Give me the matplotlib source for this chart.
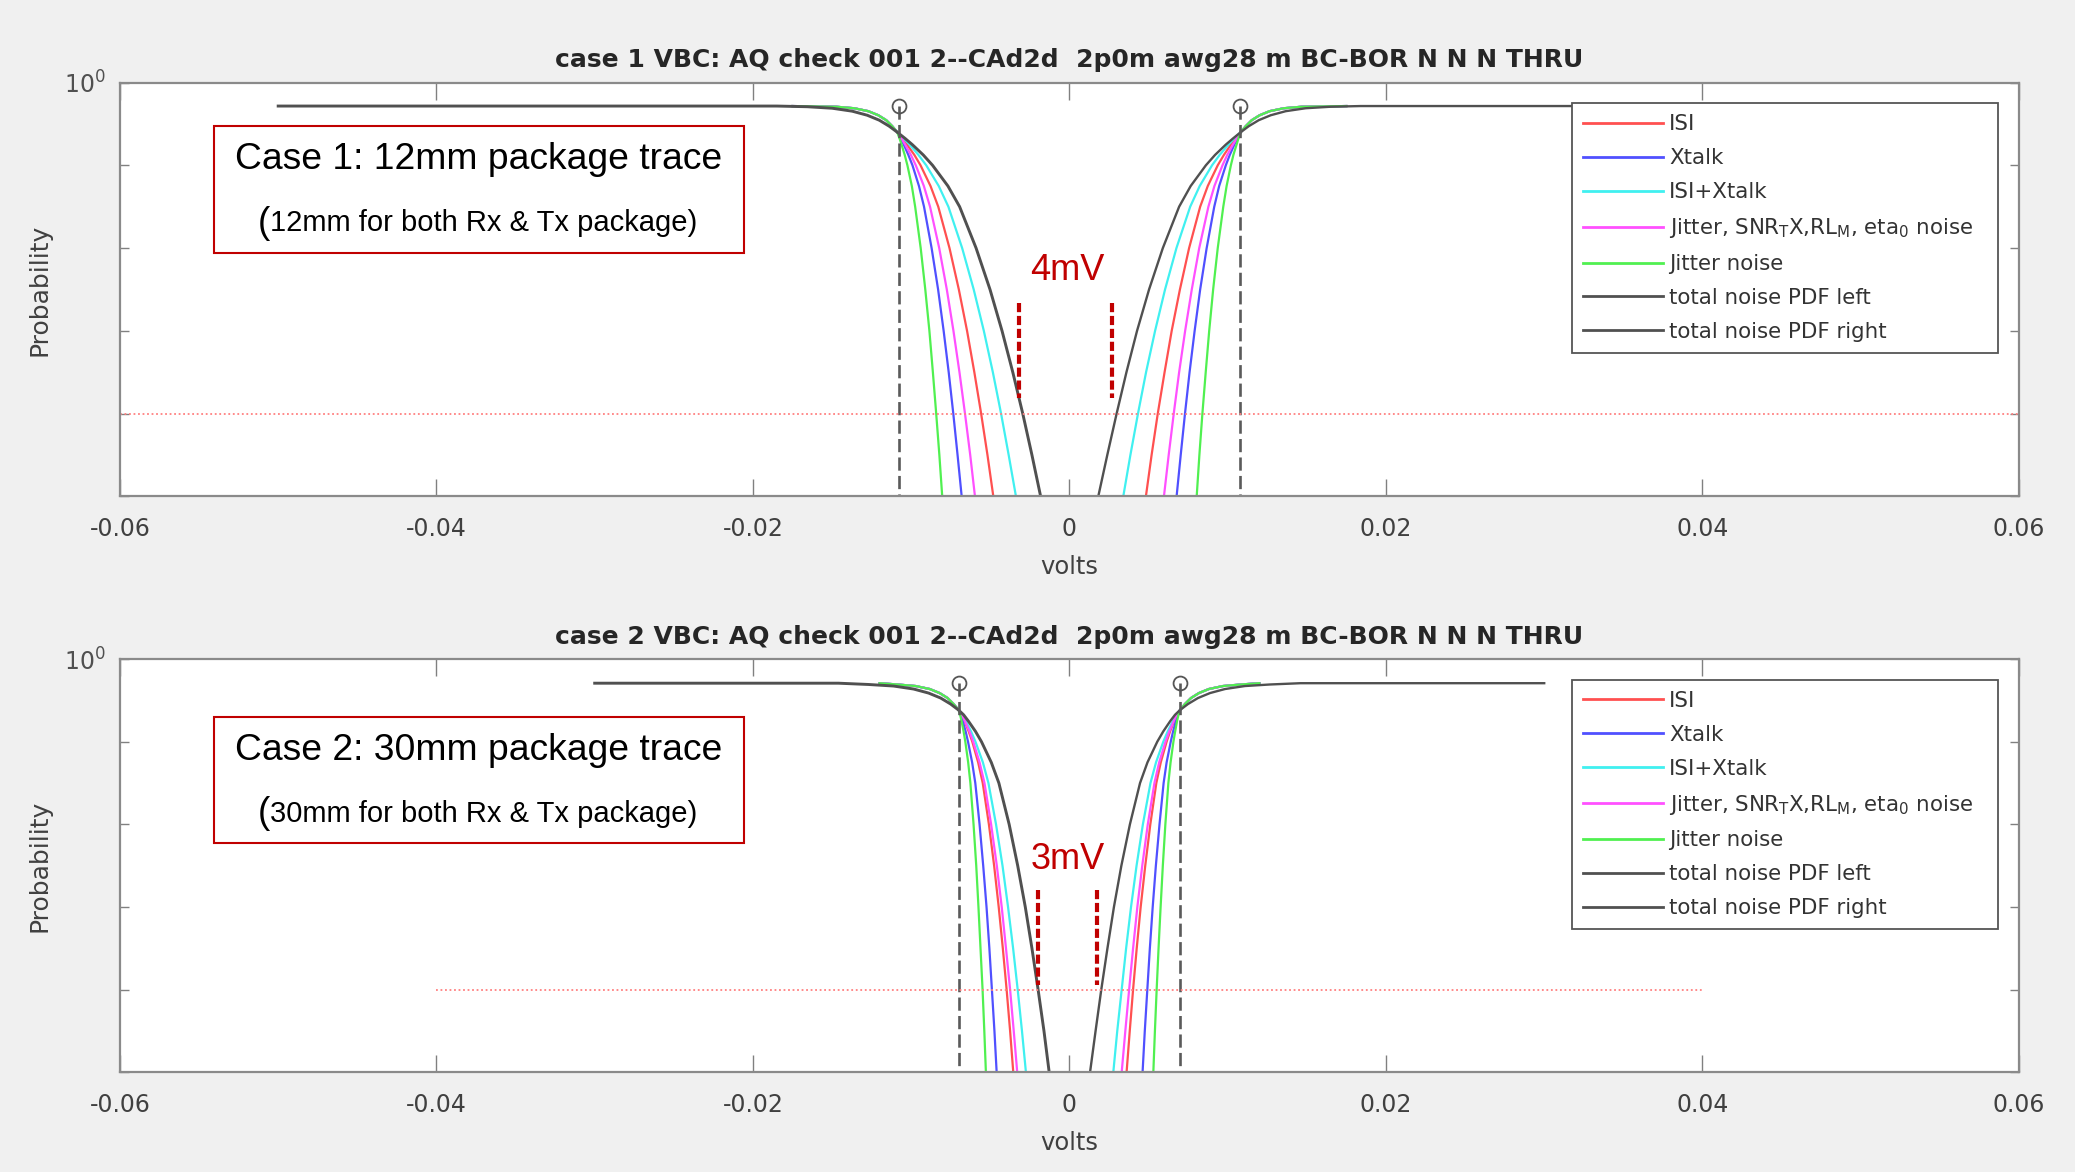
import matplotlib.pyplot as plt
from matplotlib.patches import Rectangle
from matplotlib.ticker import NullLocator

# ---------------------------------------------------------------------------
# Data (volts on x, probability on a log y axis)
# ---------------------------------------------------------------------------

series_labels = ['ISI', 'Xtalk', 'ISI+Xtalk',
                 r'Jitter, SNR$_\mathregular{T}$X,RL$_\mathregular{M}$, eta$_\mathregular{0}$ noise',
                 'Jitter noise']
series_colors = ['#ff5050', '#5050ff', '#40f0f0', '#ff50ff', '#50f050']
total_labels = ['total noise PDF left', 'total noise PDF right']
total_color = '#505050'

x_ticks = [-0.06, -0.04, -0.02, 0, 0.02, 0.04, 0.06]
x_tick_labels = ['-0.06', '-0.04', '-0.02', '0', '0.02', '0.04', '0.06']
y_ticks = [1e-10, 1e-8, 1e-6, 1e-4, 1e-2, 1e0]
y_tick_labels = ['', '', '', '', '', r'$10^0$']

# ----- case 1 --------------------------------------------------------------
c1_title = 'case 1 VBC: AQ check 001 2--CAd2d  2p0m awg28 m BC-BOR N N N THRU'
c1_box = ['Case 1: 12mm package trace', '12mm for both Rx & Tx package)']
c1_gap_text = '4mV'

# probability of the tail points (first one = crossing point at the dashed line)
c1_tail_p = [0.063, 0.0447, 0.0316, 0.0178, 1e-2, 3.16e-3, 1e-3,
             1e-4, 1e-5, 1e-6, 1e-7, 1e-8, 1e-9, 1e-10]

# left side tails (volts)
c1_isi_l = [-0.01088, -0.01056, -0.01026, -0.00980, -0.00941, -0.00878, -0.00829,
            -0.00758, -0.00699, -0.00647, -0.00601, -0.00558, -0.00518, -0.00481]
c1_xtalk_l = [-0.01088, -0.01067, -0.01047, -0.01018, -0.00992, -0.00951, -0.00919,
              -0.00871, -0.00830, -0.00795, -0.00763, -0.00734, -0.00707, -0.00681]
c1_isixt_l = [-0.01088, -0.01048, -0.01010, -0.00954, -0.00905, -0.00826, -0.00765,
              -0.00678, -0.00605, -0.00541, -0.00484, -0.00432, -0.00384, -0.00338]
c1_jsnr_l = [-0.01088, -0.01062, -0.01038, -0.01002, -0.00971, -0.00920, -0.00881,
             -0.00823, -0.00775, -0.00733, -0.00695, -0.00660, -0.00627, -0.00597]
c1_jit_l = [-0.01088, -0.01074, -0.01061, -0.01041, -0.01024, -0.00996, -0.00975,
            -0.00940, -0.00911, -0.00885, -0.00863, -0.00842, -0.00822, -0.00804]
c1_total_l = [-0.01088, -0.01039, -0.00993, -0.00924, -0.00865, -0.00768, -0.00694,
              -0.00590, -0.00502, -0.00426, -0.00358, -0.00295, -0.00237, -0.00182]

# right side tails (volts)
c1_isi_r = [0.01082, 0.01050, 0.01020, 0.00976, 0.00937, 0.00874, 0.00826,
            0.00756, 0.00698, 0.00646, 0.00601, 0.00558, 0.00519, 0.00483]
c1_xtalk_r = [0.01082, 0.01061, 0.01042, 0.01013, 0.00988, 0.00946, 0.00915,
              0.00867, 0.00826, 0.00791, 0.00759, 0.00730, 0.00703, 0.00677]
c1_isixt_r = [0.01082, 0.01042, 0.01005, 0.00949, 0.00901, 0.00823, 0.00763,
              0.00676, 0.00604, 0.00541, 0.00484, 0.00433, 0.00385, 0.00340]
c1_jsnr_r = [0.01082, 0.01057, 0.01033, 0.00997, 0.00967, 0.00916, 0.00878,
             0.00820, 0.00773, 0.00731, 0.00693, 0.00659, 0.00627, 0.00597]
c1_jit_r = [0.01082, 0.01068, 0.01056, 0.01036, 0.01020, 0.00993, 0.00972,
            0.00937, 0.00908, 0.00883, 0.00861, 0.00840, 0.00821, 0.00804]
c1_total_r = [0.01082, 0.01034, 0.00988, 0.00920, 0.00862, 0.00766, 0.00693,
              0.00590, 0.00503, 0.00427, 0.00360, 0.00298, 0.00239, 0.00182]

# flat part + knee before the crossing point
c1_knee_col_l = [-0.0175, -0.01474, -0.01360, -0.01271, -0.01208, -0.01158, -0.01120]
c1_knee_col_r = [0.0175, 0.01468, 0.01354, 0.01265, 0.01202, 0.01152, 0.01114]
c1_knee_col_p = [0.27, 0.26, 0.239, 0.203, 0.162, 0.123, 0.088]
c1_knee_tot_l = [-0.0500, -0.0185, -0.01657, -0.01499, -0.01373, -0.01278, -0.01202, -0.01139]
c1_knee_tot_r = [0.0500, 0.0184, 0.01651, 0.01493, 0.01367, 0.01272, 0.01196, 0.01133]
c1_knee_tot_p = [0.27, 0.27, 0.26, 0.239, 0.203, 0.162, 0.123, 0.088]

c1_marker_v = [-0.0108, 0.0108]
c1_marker_p = 0.27
c1_target_v = [-0.06, 0.06]
c1_gap_v = [-0.00317, 0.00267]
c1_gap_p = [4.7e-6, 2.4e-8]

# ----- case 2 --------------------------------------------------------------
c2_title = 'case 2 VBC: AQ check 001 2--CAd2d  2p0m awg28 m BC-BOR N N N THRU'
c2_box = ['Case 2: 30mm package trace', '30mm for both Rx & Tx package)']
c2_gap_text = '3mV'

c2_tail_p = [0.058, 0.0447, 0.0316, 0.0178, 1e-2, 3.16e-3, 1e-3,
             1e-4, 1e-5, 1e-6, 1e-7, 1e-8, 1e-9, 1e-10]

c2_isi_l = [-0.00700, -0.00681, -0.00663, -0.00637, -0.00614, -0.00577, -0.00548,
            -0.00509, -0.00476, -0.00447, -0.00421, -0.00397, -0.00375, -0.00355]
c2_xtalk_l = [-0.00700, -0.00687, -0.00675, -0.00656, -0.00641, -0.00615, -0.00595,
              -0.00568, -0.00545, -0.00524, -0.00506, -0.00490, -0.00474, -0.00460]
c2_isixt_l = [-0.00700, -0.00677, -0.00655, -0.00622, -0.00594, -0.00547, -0.00512,
              -0.00464, -0.00423, -0.00388, -0.00356, -0.00327, -0.00300, -0.00275]
c2_jsnr_l = [-0.00700, -0.00680, -0.00661, -0.00632, -0.00608, -0.00568, -0.00537,
             -0.00495, -0.00459, -0.00428, -0.00401, -0.00375, -0.00352, -0.00330]
c2_jit_l = [-0.00700, -0.00691, -0.00682, -0.00669, -0.00658, -0.00640, -0.00626,
            -0.00606, -0.00589, -0.00575, -0.00562, -0.00549, -0.00538, -0.00528]
c2_total_l = [-0.00700, -0.00669, -0.00639, -0.00594, -0.00556, -0.00494, -0.00446,
              -0.00381, -0.00327, -0.00279, -0.00237, -0.00198, -0.00161, -0.00128]

c2_isi_r = [0.00698, 0.00680, 0.00662, 0.00636, 0.00614, 0.00577, 0.00549,
            0.00511, 0.00479, 0.00450, 0.00425, 0.00402, 0.00381, 0.00361]
c2_xtalk_r = [0.00698, 0.00685, 0.00673, 0.00655, 0.00640, 0.00614, 0.00595,
              0.00569, 0.00546, 0.00526, 0.00508, 0.00492, 0.00476, 0.00462]
c2_isixt_r = [0.00698, 0.00675, 0.00653, 0.00621, 0.00593, 0.00547, 0.00512,
              0.00464, 0.00424, 0.00389, 0.00358, 0.00330, 0.00302, 0.00277]
c2_jsnr_r = [0.00698, 0.00678, 0.00659, 0.00631, 0.00607, 0.00567, 0.00537,
             0.00495, 0.00460, 0.00429, 0.00402, 0.00377, 0.00353, 0.00330]
c2_jit_r = [0.00698, 0.00689, 0.00680, 0.00668, 0.00657, 0.00639, 0.00625,
            0.00606, 0.00590, 0.00576, 0.00563, 0.00551, 0.00540, 0.00530]
c2_total_r = [0.00698, 0.00667, 0.00637, 0.00593, 0.00555, 0.00493, 0.00446,
              0.00382, 0.00328, 0.00281, 0.00240, 0.00201, 0.00165, 0.00130]

c2_knee_col_l = [-0.0120, -0.01086, -0.00972, -0.00883, -0.00820, -0.00770, -0.00732]
c2_knee_col_r = [0.0120, 0.01084, 0.00970, 0.00881, 0.00818, 0.00768, 0.00730]
c2_knee_col_p = [0.26, 0.242, 0.222, 0.188, 0.150, 0.1138, 0.0815]
c2_knee_tot_l = [-0.0300, -0.0146, -0.01269, -0.01111, -0.00985, -0.00890, -0.00814, -0.00751]
c2_knee_tot_r = [0.0300, 0.0146, 0.01267, 0.01109, 0.00983, 0.00888, 0.00812, 0.00749]
c2_knee_tot_p = [0.26, 0.26, 0.242, 0.222, 0.188, 0.150, 0.1138, 0.0815]

c2_marker_v = [-0.0070, 0.0070]
c2_marker_p = 0.26
c2_target_v = [-0.04, 0.04]
c2_gap_v = [-0.00197, 0.00176]
c2_gap_p = [2.6e-6, 1.3e-8]

target_p = 1e-8


# ---------------------------------------------------------------------------
# Drawing
# ---------------------------------------------------------------------------
def draw_case(ax, title, tail_p, left_tails, right_tails, knee_col_l, knee_col_r, knee_col_p,
              knee_tot_l, knee_tot_r, knee_tot_p, marker_v, marker_p, target_v,
              gap_v, gap_p, gap_text, gap_text_p, box_text):
    handles = []
    # colored contributions (one line per side)
    for i in range(5):
        h, = ax.plot(knee_col_l + left_tails[i], knee_col_p + tail_p,
                     color=series_colors[i], lw=1.6)
        ax.plot(knee_col_r + right_tails[i], knee_col_p + tail_p,
                color=series_colors[i], lw=1.6)
        handles.append(h)

    # total noise (left and right)
    h_left, = ax.plot(knee_tot_l + left_tails[5], knee_tot_p + tail_p, color=total_color, lw=2.1)
    h_right, = ax.plot(knee_tot_r + right_tails[5], knee_tot_p + tail_p, color=total_color, lw=1.7)
    handles += [h_left, h_right]

    # markers and dashed verticals at the signal levels
    for v in marker_v:
        ax.plot([v, v], [marker_p, 1e-10], color='#5a5a5a', lw=1.9, linestyle=(0, (5.0, 2.0)))
    ax.plot(marker_v, [marker_p, marker_p], linestyle='none', marker='o', ms=10,
            mfc='none', mec='#555555', mew=1.3)

    # target probability line
    ax.plot(target_v, [target_p, target_p], color='#ff8080', lw=1.3, linestyle=(0, (1, 1.5)))

    # eye opening annotation
    for v in gap_v:
        ax.plot([v, v], gap_p, color='#c00000', lw=3, linestyle=(0, (2.2, 0.9)))
    ax.text(-0.00013, gap_text_p, gap_text, color='#c00000', fontsize=26,
            family='Liberation Sans', ha='center', va='center')

    # axes styling
    ax.set_yscale('log')
    ax.set_xlim(-0.06, 0.06)
    ax.set_ylim(1e-10, 1)
    ax.set_xticks(x_ticks)
    ax.set_xticklabels(x_tick_labels)
    ax.set_yticks(y_ticks)
    ax.set_yticklabels(y_tick_labels)
    ax.yaxis.set_minor_locator(NullLocator())
    ax.tick_params(axis='x', direction='in', length=12, width=1, color='#808080',
                   top=True, labelsize=17, labelcolor='#404040', pad=14.5)
    ax.tick_params(axis='y', direction='in', length=6.5, width=1, color='#808080',
                   right=True, labelsize=17, labelcolor='#505050', pad=10)
    for s in ax.spines.values():
        s.set_color('#8a8a8a')
        s.set_linewidth(1.6)
    ax.set_facecolor('white')

    ax.set_title(title, fontsize=18, fontweight='bold', color='#262626', pad=11)
    ax.set_xlabel('volts', fontsize=17.5, color='#404040')
    ax.xaxis.set_label_coords(0.5, -0.142)
    ax.set_ylabel('Probability', fontsize=18, color='#404040')
    ax.yaxis.set_label_coords(-0.036, 0.5)

    leg = ax.legend(handles, series_labels + total_labels, loc='upper left',
                    bbox_to_anchor=(0.7648, 0.3556, 0.2241, 0.5942), mode='expand',
                    borderaxespad=0, fontsize=15.4, labelspacing=0.65, handlelength=3.7,
                    handletextpad=0.31, borderpad=0.52, fancybox=False,
                    edgecolor='#555555', framealpha=1, labelcolor='#333333')
    leg.get_frame().set_linewidth(1.3)
    for line in leg.get_lines():
        line.set_linewidth(2.0)

    # text box on the left
    box_top, box_bot = box_text[2], box_text[3]
    ax.add_patch(Rectangle((0.0493, box_bot), 0.3284 - 0.0493, box_top - box_bot,
                           transform=ax.transAxes, facecolor='white', edgecolor='#c00000',
                           lw=1.5, zorder=6))
    line1_y = box_top - 0.0811
    line2_y = box_top - 0.2335
    ax.text(0.1887, line1_y, box_text[0], transform=ax.transAxes, ha='center', va='center',
            fontsize=26.8, family='Liberation Sans', color='black', zorder=7)
    ax.text(0.0790, line2_y, '(', transform=ax.transAxes, ha='right', va='center',
            fontsize=26.8, family='Liberation Sans', color='black', zorder=7)
    ax.text(0.0790, line2_y, box_text[1], transform=ax.transAxes, ha='left', va='center',
            fontsize=21, family='Liberation Sans', color='black', zorder=7)


fig = plt.figure(figsize=(20.75, 11.72), dpi=100, facecolor='#f0f0f0')
ax1 = fig.add_axes([0.0578, 0.5764, 0.9152, 0.3532])
ax2 = fig.add_axes([0.0578, 0.0850, 0.9152, 0.3527])

draw_case(ax1, c1_title, c1_tail_p,
          [c1_isi_l, c1_xtalk_l, c1_isixt_l, c1_jsnr_l, c1_jit_l, c1_total_l],
          [c1_isi_r, c1_xtalk_r, c1_isixt_r, c1_jsnr_r, c1_jit_r, c1_total_r],
          c1_knee_col_l, c1_knee_col_r, c1_knee_col_p,
          c1_knee_tot_l, c1_knee_tot_r, c1_knee_tot_p,
          c1_marker_v, c1_marker_p, c1_target_v, c1_gap_v, c1_gap_p, c1_gap_text, 2.8e-5,
          [c1_box[0], c1_box[1], 0.894, 0.5886])

draw_case(ax2, c2_title, c2_tail_p,
          [c2_isi_l, c2_xtalk_l, c2_isixt_l, c2_jsnr_l, c2_jit_l, c2_total_l],
          [c2_isi_r, c2_xtalk_r, c2_isixt_r, c2_jsnr_r, c2_jit_r, c2_total_r],
          c2_knee_col_l, c2_knee_col_r, c2_knee_col_p,
          c2_knee_tot_l, c2_knee_tot_r, c2_knee_tot_p,
          c2_marker_v, c2_marker_p, c2_target_v, c2_gap_v, c2_gap_p, c2_gap_text, 1.4e-5,
          [c2_box[0], c2_box[1], 0.8597, 0.5549])

plt.savefig('out.png', dpi=100, facecolor=fig.get_facecolor())
